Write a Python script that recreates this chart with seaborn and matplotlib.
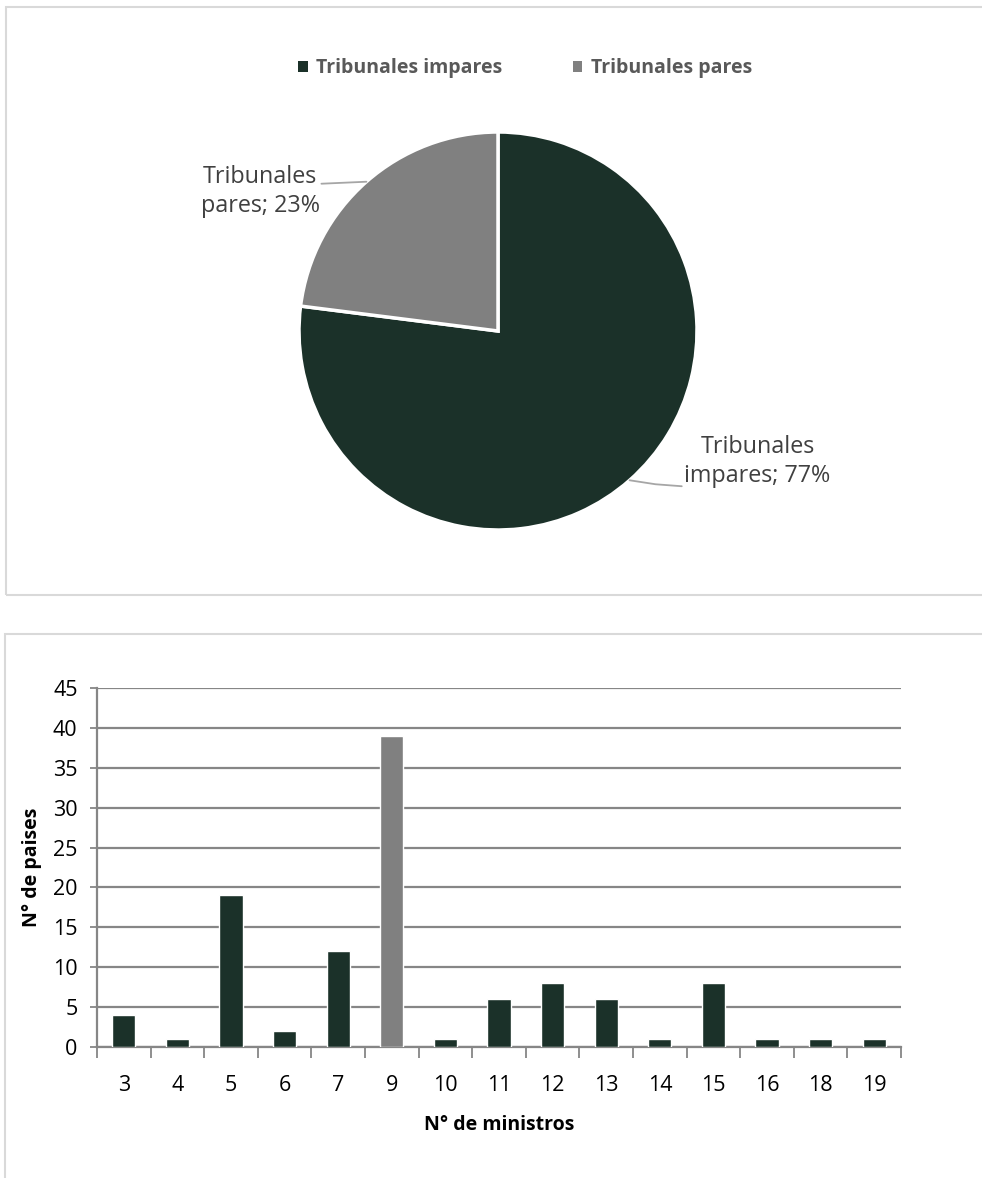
import matplotlib
matplotlib.use("Agg")
import matplotlib.pyplot as plt
import seaborn as sns
import numpy as np
import pandas as pd
from matplotlib.patches import Rectangle, Patch

# ---- data ----
pie_labels = ["Tribunales impares", "Tribunales pares"]
pie_values = [77, 23]
pie_colors = ["#1b3129", "#808080"]

ministros = ["3", "4", "5", "6", "7", "9", "10", "11", "12", "13", "14", "15", "16", "18", "19"]
paises = [4, 1, 19, 2, 12, 39, 1, 6, 8, 6, 1, 8, 1, 1, 1]
bar_colors = ["#808080" if m == "9" else "#1b3129" for m in ministros]

sns.set_theme(style="white")
plt.rcParams['font.family'] = ['Open Sans', 'DejaVu Sans']

W, H = 982, 1178
fig = plt.figure(figsize=(W / 100, H / 100), dpi=100)

def fx(px):
    return px / W

def fy(py):
    return 1 - py / H

# panel borders
fig.patches.append(Rectangle((fx(6), fy(595)), fx(1100), fy(7) - fy(595), transform=fig.transFigure,
                             fill=False, edgecolor="#d9d9d9", lw=1.5, zorder=0))
fig.patches.append(Rectangle((fx(5), fy(1300)), fx(1100), fy(634) - fy(1300), transform=fig.transFigure,
                             fill=False, edgecolor="#d9d9d9", lw=1.5, zorder=0))

# ---- pie ----
cx, cy, r = 498, 331, 199
axp = fig.add_axes([fx(cx - r), fy(cy + r), fx(2 * r), fy(cy - r) - fy(cy + r)])
wedges, _ = axp.pie(pie_values, colors=pie_colors, startangle=90, counterclock=False,
                    wedgeprops=dict(edgecolor="white", linewidth=2.5))
axp.set_xlim(-1, 1)
axp.set_ylim(-1, 1)
axp.set_aspect("equal")
axp.axis("off")

tot = sum(pie_values)
for w, lab, v in zip(wedges, pie_labels, pie_values):
    ang = np.deg2rad((w.theta1 + w.theta2) / 2)
    x0, y0 = np.cos(ang), np.sin(ang)
    name, kind = lab.split(" ")
    txt = f"{name}\n{kind}; {round(100 * v / tot)}%"
    if x0 < 0:
        axp.plot([x0, x0 - 0.226], [y0, y0 - 0.01], color="#a6a6a6", lw=1.3, clip_on=False)
        axp.text(x0 - 0.235, y0 - 0.05, txt, ha="right", va="center", multialignment="center",
                 fontsize=16.8, color="#404040", linespacing=1.3, clip_on=False)
    else:
        axp.plot([x0, x0 + 0.13, x0 + 0.262], [y0, y0 - 0.02, y0 - 0.03], color="#a6a6a6", lw=1.3, clip_on=False)
        axp.text(x0 + 0.275, y0 + 0.095, txt, ha="left", va="center", multialignment="center",
                 fontsize=16.8, color="#404040", linespacing=1.3, clip_on=False)

handles = [Patch(facecolor=c, edgecolor="none") for c in pie_colors]
leg = fig.legend(handles, pie_labels, loc="center", bbox_to_anchor=(fx(525), fy(68)), ncol=2,
                 frameon=False, handlelength=0.5, handleheight=0.5, handletextpad=0.45,
                 columnspacing=3.6, prop=dict(weight="bold", size=14))
for t in leg.get_texts():
    t.set_color("#595959")

# ---- bar chart ----
axb = fig.add_axes([fx(97), fy(1047), fx(901) - fx(97), fy(688) - fy(1047)])
df = pd.DataFrame({"ministros": ministros, "paises": paises})
sns.barplot(data=df, x="ministros", y="paises", hue="ministros", palette=bar_colors,
            order=ministros, legend=False, width=0.43, saturation=1, ax=axb, zorder=3)
axb.set_xlim(-0.5, len(ministros) - 0.5)
axb.set_ylim(0, 45)
axb.set_yticks(np.arange(0, 46, 5))
axb.yaxis.grid(True, color="#868686", lw=1.6)
axb.set_axisbelow(True)
for s in ["top", "right"]:
    axb.spines[s].set_visible(False)
for s in ["left", "bottom"]:
    axb.spines[s].set_color("#868686")
    axb.spines[s].set_linewidth(1.6)
axb.set_xticks(np.arange(-0.5, len(ministros), 1.0), minor=True)
axb.tick_params(axis="x", which="major", length=0, pad=20, labelsize=15.5, labelcolor="#000000")
axb.tick_params(axis="x", which="minor", length=8, width=1.3, color="#868686", direction="out", bottom=True)
axb.tick_params(axis="y", which="major", length=5, width=1.3, color="#868686", direction="out", left=True,
                pad=9, labelsize=15.5, labelcolor="#000000")
axb.set_xlabel("N° de ministros", fontsize=14, fontweight="bold", labelpad=14, color="#000000")
axb.set_ylabel("N° de paises", fontsize=14, fontweight="bold", labelpad=8, color="#000000")

fig.savefig("out.png", dpi=100)
